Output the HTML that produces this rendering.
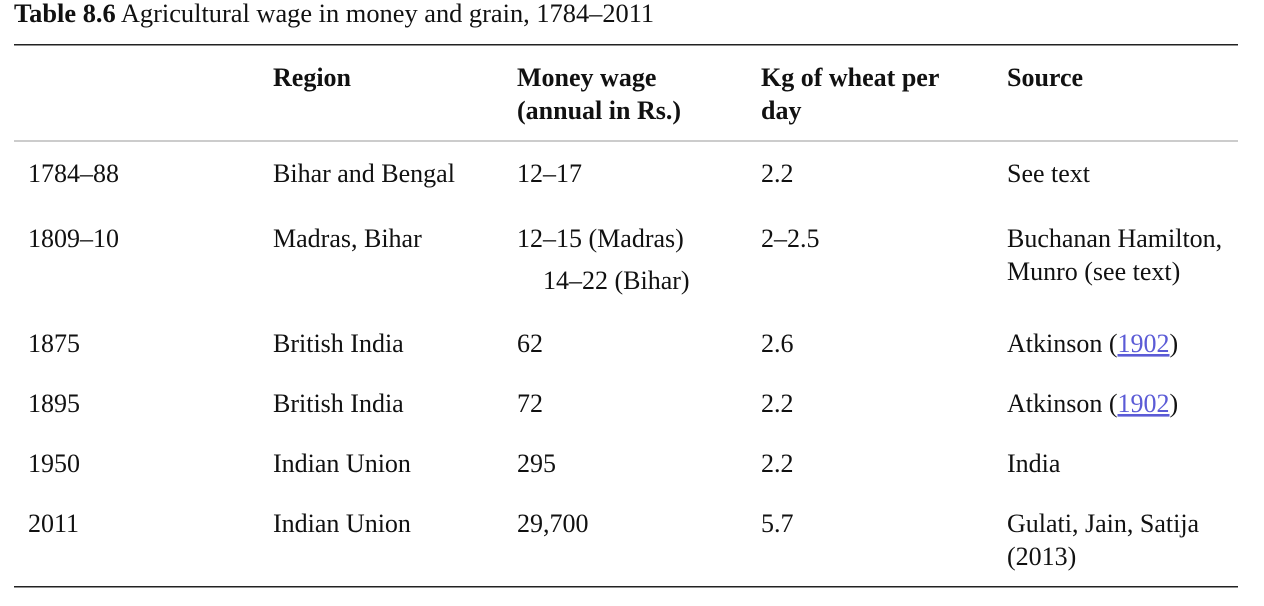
<!DOCTYPE html>
<html><head><meta charset="utf-8"><style>
body{margin:0;background:#fff;}
svg{display:block;font-family:"Liberation Serif",serif;font-size:26px;fill:#111;}
.b{font-weight:bold;}
.lk{fill:#5b5bd6;text-decoration:underline;}
</style></head><body>
<svg width="1264" height="606" viewBox="0 0 1264 606">
<text x="14" y="22" style="font-size:26.4px"><tspan class="b">Table 8.6</tspan> Agricultural wage in money and grain, 1784–2011</text>
<rect x="14" y="44" width="1224" height="1.5" fill="#222"/>
<g class="b">
<text x="273" y="86">Region</text>
<text x="517" y="86">Money wage</text>
<text x="517" y="119">(annual in Rs.)</text>
<text x="761" y="86">Kg of wheat per</text>
<text x="761" y="119">day</text>
<text x="1007" y="86">Source</text>
</g>
<rect x="14" y="140" width="1224" height="2" fill="#ccc"/>
<g>
<text x="28" y="182">1784–88</text><text x="273" y="182">Bihar and Bengal</text><text x="517" y="182">12–17</text><text x="761" y="182">2.2</text><text x="1007" y="182">See text</text>
</g>
<g>
<text x="28" y="247">1809–10</text><text x="273" y="247">Madras, Bihar</text><text x="517" y="247">12–15 (Madras)</text><text x="543" y="289">14–22 (Bihar)</text><text x="761" y="247">2–2.5</text><text x="1007" y="247">Buchanan Hamilton,</text><text x="1007" y="280">Munro (see text)</text>
</g>
<g>
<text x="28" y="352">1875</text><text x="273" y="352">British India</text><text x="517" y="352">62</text><text x="761" y="352">2.6</text><text x="1007" y="352">Atkinson (<tspan class="lk">1902</tspan>)</text>
</g>
<g>
<text x="28" y="412">1895</text><text x="273" y="412">British India</text><text x="517" y="412">72</text><text x="761" y="412">2.2</text><text x="1007" y="412">Atkinson (<tspan class="lk">1902</tspan>)</text>
</g>
<g>
<text x="28" y="472">1950</text><text x="273" y="472">Indian Union</text><text x="517" y="472">295</text><text x="761" y="472">2.2</text><text x="1007" y="472">India</text>
</g>
<g>
<text x="28" y="532">2011</text><text x="273" y="532">Indian Union</text><text x="517" y="532">29,700</text><text x="761" y="532">5.7</text><text x="1007" y="532">Gulati, Jain, Satija</text><text x="1007" y="565">(2013)</text>
</g>
<rect x="14" y="586" width="1224" height="1.5" fill="#222"/>
</svg>
</body></html>
